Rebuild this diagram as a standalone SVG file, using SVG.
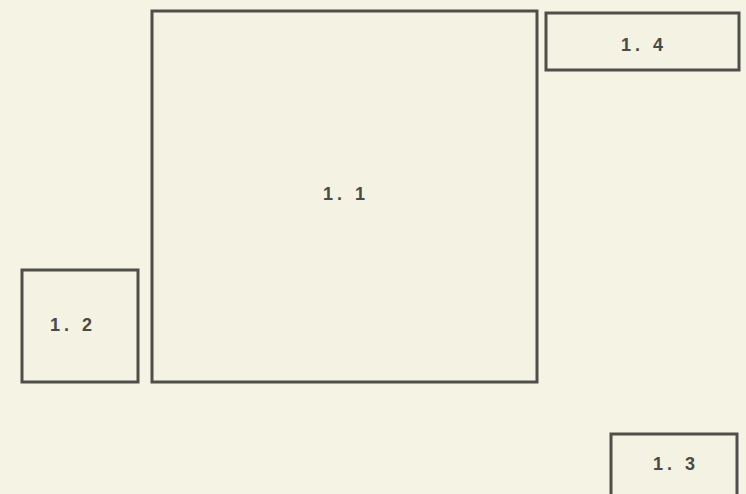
<svg xmlns="http://www.w3.org/2000/svg" width="746" height="494" viewBox="0 0 746 494">
<style>
.box{fill:#f4f2e2;stroke:#4e4e4a;stroke-width:3}
.lbl{font-family:"Liberation Sans",Arial,sans-serif;font-size:18px;font-weight:bold;fill:#4a4a46;text-anchor:middle;letter-spacing:4px}
</style>
<rect width="746" height="494" fill="#f5f3e3"/>
<g id="n1-1"><rect class="box" x="152" y="11" width="385" height="371"/><text class="lbl" x="346" y="200">1. 1</text></g>
<g id="n1-4"><rect class="box" x="546" y="13" width="193" height="57"/><text class="lbl" x="644" y="51">1. 4</text></g>
<g id="n1-2"><rect class="box" x="22" y="270" width="116" height="112"/><text class="lbl" x="73" y="331">1. 2</text></g>
<g id="n1-3"><rect class="box" x="611" y="434" width="126" height="70"/><text class="lbl" x="676" y="470">1. 3</text></g>
<g id="connectors"></g>
</svg>
